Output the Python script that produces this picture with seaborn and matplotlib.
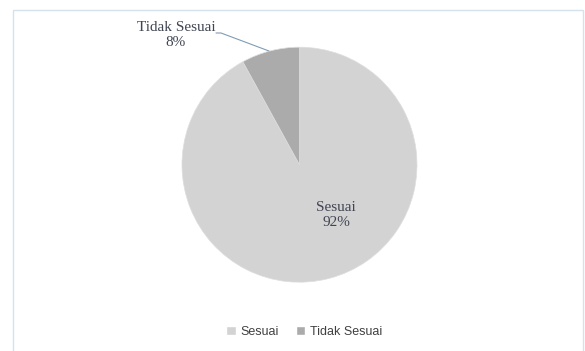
import matplotlib
matplotlib.use("Agg")
import matplotlib.pyplot as plt
import seaborn as sns
from matplotlib.patches import Rectangle

categories = ["Sesuai", "Tidak Sesuai"]
values = [92, 8]
pct_labels = ["92%", "8%"]

sns.set_theme(style="white")
plt.rcParams['font.family'] = ['Liberation Serif', 'DejaVu Sans']

colors = ["#d3d3d3", "#ababab"]

W, H = 585, 351
fig = plt.figure(figsize=(W / 100, H / 100), dpi=100)
fig.patch.set_facecolor("white")

# outer border (open at the bottom, as in the reference crop)
fig.patches.append(Rectangle((12.5 / W, -0.05), (583 - 12.5) / W, (H - 9.5) / H + 0.05,
                             transform=fig.transFigure, fill=False,
                             edgecolor="#d4e2ee", linewidth=1.0))

cx, cy, r = 299.5, 164.7, 117.5
ax = fig.add_axes([(cx - r) / W, (H - cy - r) / H, 2 * r / W, 2 * r / H])
wedges, _ = ax.pie(values, colors=colors, startangle=90, counterclock=False,
                   radius=1.0, wedgeprops=dict(linewidth=0.5, edgecolor="#dedede"))
ax.set_xlim(-1, 1)
ax.set_ylim(-1, 1)
ax.set_aspect("auto")

def to_fig(px, py):
    return px / W, 1 - py / H

txt_color = "#404552"
fig.text(*to_fig(336, 215), f"{categories[0]}\n{pct_labels[0]}", ha="center", va="center",
         fontsize=11, color=txt_color, linespacing=1.25)
fig.text(*to_fig(176, 35), f"{categories[1]}\n{pct_labels[1]}", ha="center", va="center",
         fontsize=11, color=txt_color, linespacing=1.25)
# leader line
fig.lines.append(plt.Line2D([216 / W, 221 / W, 269 / W],
                            [1 - 33 / H, 1 - 33 / H, 1 - 51 / H],
                            transform=fig.transFigure, color="#7f9cb4", linewidth=0.8))

handles = [Rectangle((0, 0), 1, 1, facecolor=c) for c in colors]
leg = fig.legend(handles, categories, loc="center", bbox_to_anchor=(304 / W, 1 - 332 / H),
                 ncol=2, frameon=False, handlelength=0.75, handleheight=0.75,
                 handletextpad=0.35, columnspacing=1.4,
                 prop=dict(family="Liberation Sans", size=9))
for t in leg.get_texts():
    t.set_color("#404040")

fig.savefig("out.png", dpi=100, facecolor="white")
